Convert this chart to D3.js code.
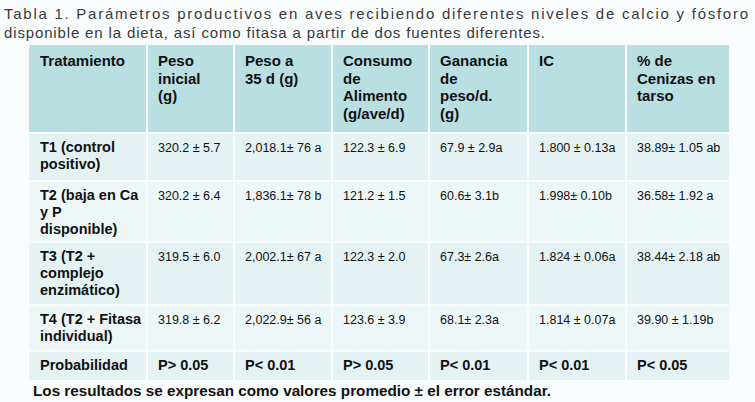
<!DOCTYPE html><html><head><meta charset="utf-8"><script src="https://cdn.jsdelivr.net/npm/d3@7"></script>
<style>body{margin:0;background:#fff}</style></head><body><script>
const titleLines=["Tabla 1. Parámetros productivos en aves recibiendo diferentes niveles de calcio y fósforo","disponible en la dieta, así como fitasa a partir de dos fuentes diferentes."];
const headers=[["Tratamiento"],["Peso","inicial","(g)"],["Peso a","35 d (g)"],["Consumo","de","Alimento","(g/ave/d)"],["Ganancia","de","peso/d.","(g)"],["IC"],["% de","Cenizas en","tarso"]];
const treatments=[["T1 (control","positivo)"],["T2 (baja en Ca","y P","disponible)"],["T3 (T2 +","complejo","enzimático)"],["T4 (T2 + Fitasa","individual)"],["Probabilidad"]];
const pesoInicial=["320.2 ± 5.7","320.2 ± 6.4","319.5 ± 6.0","319.8 ± 6.2","P> 0.05"];
const peso35=["2,018.1± 76 a","1,836.1± 78 b","2,002.1± 67 a","2,022.9± 56 a","P< 0.01"];
const consumo=["122.3 ± 6.9","121.2 ± 1.5","122.3 ± 2.0","123.6 ± 3.9","P> 0.05"];
const ganancia=["67.9 ± 2.9a","60.6± 3.1b","67.3± 2.6a","68.1± 2.3a","P< 0.01"];
const ic=["1.800 ± 0.13a","1.998± 0.10b","1.824 ± 0.06a","1.814 ± 0.07a","P< 0.01"];
const cenizas=["38.89± 1.05 ab","36.58± 1.92 a","38.44± 2.18 ab","39.90 ± 1.19b","P< 0.05"];
const footnote="Los resultados se expresan como valores promedio ± el error estándar.";

const colEdges=[29,148,235,333,430,529,627,731];
const rowEdges=[45,134,182,243,306,352,382];
const svg=d3.select("body").append("svg").attr("width",755).attr("height",402).style("font-family","'Liberation Sans',Arial,sans-serif");
svg.append("rect").attr("width",755).attr("height",402).attr("fill","#f9fcfd");
const tt=svg.append("g").attr("fill","#3a3a3a").attr("font-size",15);
tt.append("text").attr("x",4).attr("y",19).attr("textLength",744).attr("lengthAdjust","spacing").text(titleLines[0]);
tt.append("text").attr("x",4).attr("y",38).attr("textLength",541).attr("lengthAdjust","spacing").text(titleLines[1]);
const cols=[treatments,pesoInicial,peso35,consumo,ganancia,ic,cenizas];
const rowFill=["#b9dfe2","#e4f2f4","#eef7f8","#e4f2f4","#eef7f8","#e4f2f4"];
for(let r=0;r<6;r++){for(let c=0;c<7;c++){
 const x0=colEdges[c],x1=colEdges[c+1]-2,y0=rowEdges[r],y1=rowEdges[r+1]-2;
 svg.append("rect").attr("x",x0).attr("y",y0).attr("width",x1-x0).attr("height",y1-y0).attr("fill",rowFill[r]);
 let lines,bold,fs;
 if(r===0){lines=headers[c];bold=true;fs=15;}
 else{const v=cols[c][r-1];lines=Array.isArray(v)?v:[v];bold=(c===0||r===5);fs=bold?14.5:12.5;}
 const t=svg.append("text").attr("font-weight",bold?"bold":"normal").attr("font-size",fs).attr("fill","#111");
 lines.forEach((l,i)=>t.append("tspan").attr("x",x0+(c===0?11:10)).attr("y",y0+(r===0?21:18)+i*(r===0?17.5:17)).text(l));
}}
svg.append("text").attr("x",33).attr("y",396).attr("font-weight","bold").attr("font-size",15).attr("fill","#111").attr("textLength",518).attr("lengthAdjust","spacingAndGlyphs").text(footnote);
</script></body></html>
